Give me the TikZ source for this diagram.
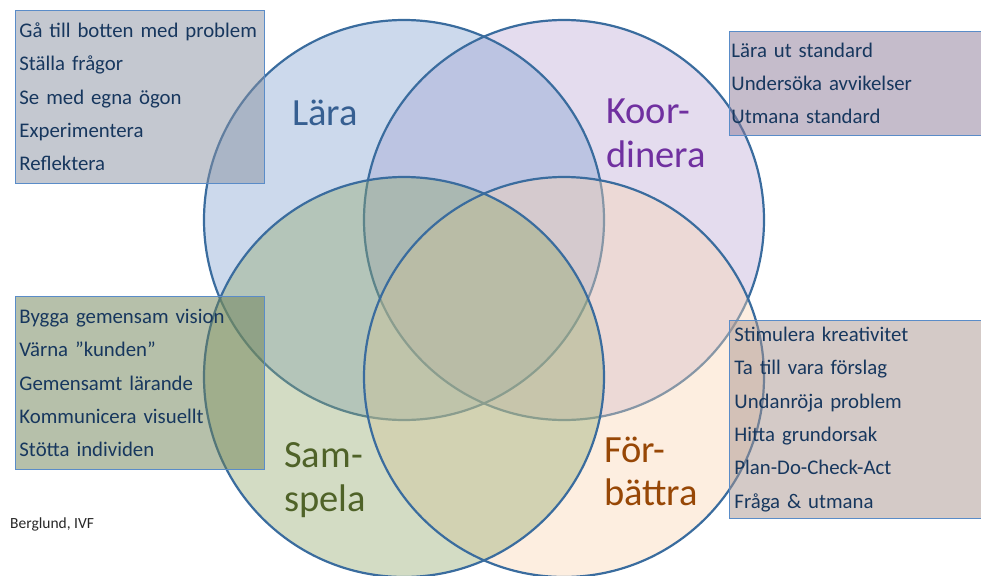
\documentclass[tikz,border=0pt]{standalone}
\usepackage{fontspec}
\setmainfont{Carlito}
\usepackage{tikz}
\usetikzlibrary{positioning}

\definecolor{laraFill}{RGB}{128,160,208}
\definecolor{koorFill}{RGB}{188,168,213}
\definecolor{samFill}{RGB}{145,168,108}
\definecolor{forbFill}{RGB}{250,213,178}
\definecolor{ringLine}{RGB}{58,108,158}
\definecolor{boxLine}{RGB}{90,140,200}
\definecolor{boxText}{RGB}{23,55,94}
\definecolor{laraBox}{RGB}{137,145,161}
\definecolor{koorBox}{RGB}{139,121,151}
\definecolor{samBox}{RGB}{109,129,85}
\definecolor{forbBox}{RGB}{169,149,143}
\definecolor{laraText}{RGB}{54,95,145}
\definecolor{koorText}{RGB}{112,48,160}
\definecolor{samText}{RGB}{79,98,40}
\definecolor{forbText}{RGB}{151,71,6}

\tikzset{
	ring/.style={draw=ringLine, line width=2.2pt},
	ringfill/.style={fill=#1, fill opacity=0.4},
	listbox/.style={rectangle, draw=boxLine, line width=0.9pt, fill=#1, fill opacity=0.5,
		text opacity=1, text=boxText, anchor=north west, align=left, inner ysep=0pt,
		font=\fontsize{20.8}{33.3}\selectfont},
	setname/.style={anchor=base west, inner sep=0pt, text=#1,
		font=\fontsize{38.5}{44}\selectfont},
}

\begin{document}
\begin{tikzpicture}[x=1pt, y=-1pt]

\useasboundingbox (0,0) rectangle (981,575);

%centres
\coordinate (cLara) at (404,220);
\coordinate (cKoor) at (564,220);
\coordinate (cSam) at (404,377);
\coordinate (cForb) at (564,377);

%upper circles
\fill[ringfill=koorFill] (cKoor) circle [radius=200];
\fill[ringfill=laraFill] (cLara) circle [radius=200];
\draw[ring] (cKoor) circle [radius=200];
\draw[ring] (cLara) circle [radius=200];

%lower circles
\fill[ringfill=forbFill] (cForb) circle [radius=200];
\fill[ringfill=samFill] (cSam) circle [radius=200];
\draw[ring] (cForb) circle [radius=200];
\draw[ring] (cSam) circle [radius=200];

%Lära list
\node[listbox=laraBox, inner xsep=4pt, text width=241pt, minimum height=173pt] (laraList) at (15,10) {
	Gå till botten med problem\\
	Ställa frågor\\
	Se med egna ögon\\
	Experimentera\\
	Reflektera
	};

%Koordinera list
\node[listbox=koorBox, inner xsep=2pt, text width=257pt, minimum height=104pt] (koorList) at (729,31) {
	Lära ut standard\\
	Undersöka avvikelser\\
	Utmana standard
	};

%Samspela list
\node[listbox=samBox, inner xsep=4pt, text width=241pt, minimum height=173pt] (samList) at (15,296) {
	Bygga gemensam vision\\
	Värna ”kunden”\\
	Gemensamt lärande\\
	Kommunicera visuellt\\
	Stötta individen
	};

%Förbättra list
\node[listbox=forbBox, inner xsep=5pt, text width=251pt, minimum height=198pt] (forbList) at (729,320) {
	Stimulera kreativitet\\
	Ta till vara förslag\\
	Undanröja problem\\
	Hitta grundorsak\\
	Plan-Do-Check-Act\\
	Fråga \& utmana
	};

%circle names
\node[setname=laraText] (lara) at (292,125) {Lära};
\node[setname=koorText] (koorA) at (606,124) {Koor-};
\node[setname=koorText] (koorB) at (606,167) {dinera};
\node[setname=samText] (samA) at (284,467) {Sam-};
\node[setname=samText] (samB) at (284,511) {spela};
\node[setname=forbText] (forbA) at (604,462) {För-};
\node[setname=forbText] (forbB) at (604,505) {bättra};

%source
\node[anchor=base west, inner sep=0pt, text={black!85}, font=\fontsize{15.5}{18}\selectfont] (source) at (10,528) {Berglund, IVF};

\end{tikzpicture}
\end{document}
